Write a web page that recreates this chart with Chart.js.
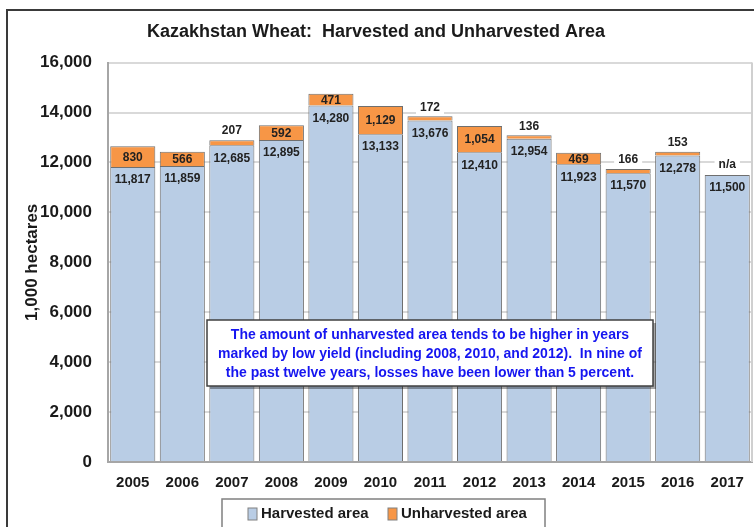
<!DOCTYPE html>
<html>
<head>
<meta charset="utf-8">
<script src="https://cdn.jsdelivr.net/npm/chart.js@4.4.1/dist/chart.umd.min.js"></script>
<style>
  body { margin: 0; overflow: hidden; background: #fff; }
  #wrap { position: relative; width: 754px; height: 527px; overflow: hidden; }
  #marco { position: absolute; left: 6px; top: 9px; width: 800px; height: 600px; border: 2px solid #3a3a3a; }
  canvas { position: absolute; left: 0; top: 0; }
</style>
</head>
<body>
<div id="wrap">
  <div id="marco"></div>
  <canvas id="grafica" width="754" height="527"></canvas>
</div>
<script>
// datos del grafico
const anios = ['2005', '2006', '2007', '2008', '2009', '2010', '2011', '2012', '2013', '2014', '2015', '2016', '2017'];
const cosechada = [11817, 11859, 12685, 12895, 14280, 13133, 13676, 12410, 12954, 11923, 11570, 12278, 11500];
const noCosechada = [830, 566, 207, 592, 471, 1129, 172, 1054, 136, 469, 166, 153, null];
const ticksY = [0, 2000, 4000, 6000, 8000, 10000, 12000, 14000, 16000];
const nota = [
  'The amount of unharvested area tends to be higher in years',
  'marked by low yield (including 2008, 2010, and 2012).  In nine of',
  'the past twelve years, losses have been lower than 5 percent.'
];

const fuente = "'Liberation Sans', Arial, sans-serif";
const azul = '#b9cde5';
const naranja = '#f79646';

function formato(v) {
  return v.toLocaleString('en-US');
}

// etiquetas, nota y leyenda
const extras = {
  id: 'extras',
  beforeDatasetsDraw(chart) {
    const ctx = chart.ctx;
    const a = chart.chartArea;
    ctx.save();
    ctx.strokeStyle = '#d0d0d0';
    ctx.lineWidth = 2;
    ctx.beginPath();
    ctx.moveTo(a.right, a.top);
    ctx.lineTo(a.right, a.bottom);
    ctx.stroke();
    ctx.restore();
  },
  afterDatasetsDraw(chart) {
    const ctx = chart.ctx;
    const m0 = chart.getDatasetMeta(0);
    const m1 = chart.getDatasetMeta(1);
    ctx.save();
    ctx.font = 'bold 12px ' + fuente;
    ctx.textAlign = 'center';
    ctx.textBaseline = 'middle';
    ctx.fillStyle = '#222';

    function arriba(txt, x, y) {
      const w = ctx.measureText(txt).width + 8;
      ctx.fillStyle = '#fff';
      ctx.fillRect(x - w / 2, y - 8, w, 16);
      ctx.fillStyle = '#222';
      ctx.fillText(txt, x, y);
    }

    for (let i = 0; i < anios.length; i++) {
      const b0 = m0.data[i];
      ctx.fillText(formato(cosechada[i]), b0.x, b0.y + 13);
      if (noCosechada[i] == null) {
        arriba('n/a', b0.x, b0.y - 10);
        continue;
      }
      const b1 = m1.data[i];
      if (noCosechada[i] >= 300) {
        ctx.fillText(formato(noCosechada[i]), b1.x, (b1.y + b1.base) / 2 + 1);
      } else {
        arriba(formato(noCosechada[i]), b1.x, b1.y - 9);
      }
    }
    ctx.restore();
  },
  afterDraw(chart) {
    const ctx = chart.ctx;
    ctx.save();
    // caja de la nota
    const nx = 207, ny = 320, nw = 446, nh = 66;
    ctx.fillStyle = 'rgba(0,0,0,0.35)';
    ctx.fillRect(nx + 3, ny + 3, nw, nh);
    ctx.fillStyle = '#fff';
    ctx.fillRect(nx, ny, nw, nh);
    ctx.strokeStyle = '#404040';
    ctx.lineWidth = 1.5;
    ctx.strokeRect(nx, ny, nw, nh);
    ctx.fillStyle = '#1515f0';
    ctx.font = 'bold 14px ' + fuente;
    ctx.textAlign = 'center';
    ctx.textBaseline = 'middle';
    nota.forEach((l, k) => ctx.fillText(l, nx + nw / 2, ny + 15 + k * 19));

    // leyenda
    const lx = 222, ly = 499;
    ctx.fillStyle = '#fff';
    ctx.fillRect(lx, ly, 323, 40);
    ctx.strokeStyle = '#808080';
    ctx.lineWidth = 1.5;
    ctx.strokeRect(lx, ly, 323, 40);
    ctx.font = 'bold 15px ' + fuente;
    ctx.textAlign = 'left';
    const items = [[248, 0], [388, 1]];
    items.forEach(([x, d]) => {
      const ds = chart.data.datasets[d];
      ctx.fillStyle = ds.backgroundColor;
      ctx.fillRect(x, 508, 9, 12);
      ctx.strokeStyle = '#808080';
      ctx.lineWidth = 1;
      ctx.strokeRect(x, 508, 9, 12);
      ctx.fillStyle = '#1a1a1a';
      ctx.fillText(ds.label, x + 13, 514);
    });
    ctx.restore();
  }
};

new Chart(document.getElementById('grafica'), {
  type: 'bar',
  data: {
    labels: anios,
    datasets: [{
      label: 'Harvested area',
      data: cosechada,
      backgroundColor: azul,
      borderColor: '#6f6f6f',
      borderWidth: 1,
      barPercentage: 0.91,
      categoryPercentage: 1
    }, {
      label: 'Unharvested area',
      data: noCosechada,
      backgroundColor: naranja,
      borderColor: '#6f6f6f',
      borderWidth: 1,
      barPercentage: 0.91,
      categoryPercentage: 1
    }]
  },
  options: {
    responsive: false,
    animation: false,
    layout: {
      padding: { left: 0, right: 2, top: 0, bottom: 30 }
    },
    plugins: {
      legend: { display: false },
      tooltip: { enabled: false },
      title: {
        display: true,
        text: 'Kazakhstan Wheat:  Harvested and Unharvested Area',
        color: '#1a1a1a',
        font: { family: fuente, size: 18, weight: 'bold' },
        padding: { top: 21, bottom: 20 }
      }
    },
    scales: {
      x: {
        stacked: true,
        grid: { display: false },
        border: { color: '#a6a6a6', width: 2 },
        ticks: {
          color: '#1a1a1a',
          padding: 4,
          font: { family: fuente, size: 15, weight: 'bold' }
        },
        afterFit(scale) { scale.height = 35; }
      },
      y: {
        stacked: true,
        min: 0,
        max: 16000,
        afterBuildTicks(scale) {
          scale.ticks = ticksY.map(v => ({ value: v }));
        },
        grid: { color: '#d9d9d9', lineWidth: 2, drawTicks: false },
        border: { color: '#a6a6a6', width: 2 },
        ticks: {
          color: '#1a1a1a',
          padding: 16,
          font: { family: fuente, size: 17, weight: 'bold' },
          callback: v => formato(v)
        },
        title: {
          display: true,
          text: '1,000 hectares',
          color: '#1a1a1a',
          font: { family: fuente, size: 17, weight: 'bold' },
          padding: { top: 22, bottom: 0 }
        },
        afterFit(scale) { scale.width = 108; }
      }
    }
  },
  plugins: [extras]
});
</script>
</body>
</html>
